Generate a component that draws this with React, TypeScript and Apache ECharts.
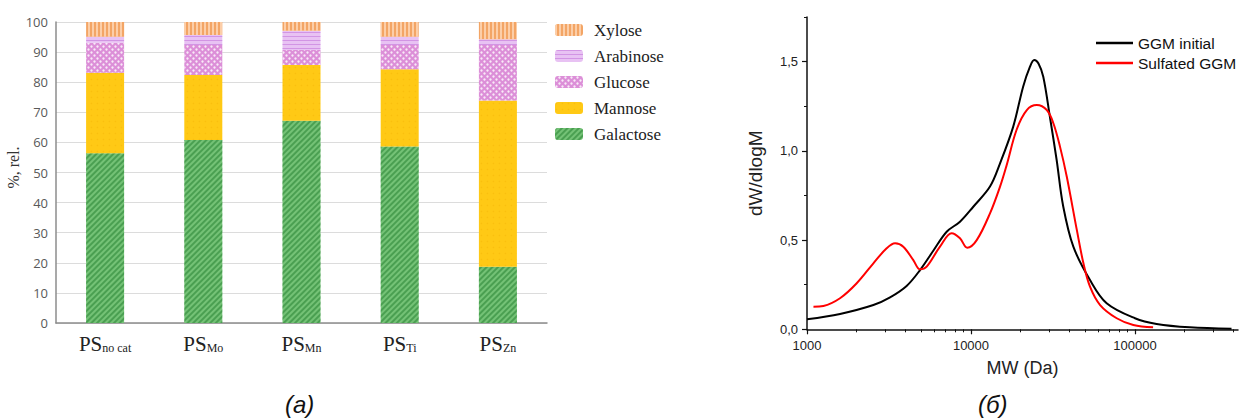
import React, { useEffect, useRef } from 'react';
import * as echarts from 'echarts';

// ---- Left chart: monosaccharide composition (%, rel.) ----
const categories = ['no cat', 'Mo', 'Mn', 'Ti', 'Zn'];
const galactose = [56.4, 60.8, 67.2, 58.6, 18.7];
const mannose = [26.7, 21.6, 18.5, 25.7, 55.2];
const glucose = [10.0, 10.0, 5.0, 8.1, 18.5];
const arabinose = [2.0, 3.3, 6.4, 2.7, 1.9];
const xylose = [4.9, 4.3, 2.9, 4.9, 5.7];
const leftTicks = [0, 10, 20, 30, 40, 50, 60, 70, 80, 90, 100];

// ---- Right chart: MWD curves ----
const mwInitial = [1000, 1590, 2540, 3210, 4050, 4890, 5890, 7110, 8570, 10330, 13060, 15040, 18100, 20800, 22900, 24300, 25800, 27600, 30300, 33300, 36500, 42100, 53200, 67200, 100000, 135500, 216000, 388000];
const dwInitial = [0.056, 0.086, 0.136, 0.179, 0.243, 0.332, 0.44, 0.547, 0.603, 0.687, 0.80, 0.93, 1.136, 1.36, 1.472, 1.51, 1.49, 1.416, 1.19, 0.949, 0.69, 0.463, 0.276, 0.146, 0.062, 0.030, 0.011, 0.003];
const mwSulfated = [1095, 1259, 1590, 2010, 2540, 3060, 3445, 3865, 4450, 4890, 5370, 6470, 7620, 8570, 9480, 10840, 13060, 15040, 16500, 19000, 21900, 25200, 29000, 31800, 34900, 38400, 44200, 48500, 53200, 61300, 77400, 97700, 129000];
const dwSulfated = [0.127, 0.131, 0.174, 0.258, 0.37, 0.454, 0.482, 0.463, 0.388, 0.336, 0.351, 0.463, 0.538, 0.51, 0.457, 0.5, 0.65, 0.80, 0.92, 1.12, 1.229, 1.257, 1.229, 1.155, 1.024, 0.855, 0.557, 0.37, 0.239, 0.136, 0.062, 0.024, 0.011];
const xMajorTicks = [1000, 10000, 100000];
const xMinorTicks = [2000, 3000, 4000, 5000, 6000, 7000, 8000, 9000, 20000, 30000, 40000, 50000, 60000, 70000, 80000, 90000, 200000, 300000, 400000];
const yMajorTicks = [0, 0.5, 1.0, 1.5];
const xMin = 1000;
const xMax = 425000;

const pair = (xs: number[], ys: number[]) => xs.map((x, i) => [x, ys[i]]);

export default function App() {
  const ref = useRef<HTMLDivElement>(null);
  useEffect(() => {
    if (!ref.current) return;
    const chart = echarts.init(ref.current, null, { renderer: 'svg' });
    const serif = 'Liberation Serif';
    const sans = 'Liberation Sans';
    const barSeries = (name: string, data: number[], color: string, decal: any) => ({
      name,
      type: 'bar',
      stack: 'comp',
      xAxisIndex: 0,
      yAxisIndex: 0,
      barWidth: 38,
      data,
      itemStyle: { color, decal },
    });
    chart.setOption({
      animation: false,
      backgroundColor: '#ffffff',
      grid: [
        { left: 56, top: 22, width: 491, height: 301 },
        { left: 807, top: 17.1, width: 431, height: 312.2 },
      ],
      legend: [
        {
          data: ['Xylose', 'Arabinose', 'Glucose', 'Mannose', 'Galactose'],
          orient: 'vertical',
          left: 550,
          top: 16.5,
          itemWidth: 28,
          itemHeight: 12,
          itemGap: 9,
          textStyle: { fontFamily: serif, fontSize: 17, color: '#222', lineHeight: 17, padding: [0, 0, 0, 6] },
        },
        {
          data: ['GGM initial', 'Sulfated GGM'],
          orient: 'vertical',
          left: 1091,
          top: 30,
          icon: 'rect',
          itemWidth: 37,
          itemHeight: 2.5,
          itemGap: 4,
          textStyle: { fontFamily: sans, fontSize: 15.5, color: '#111', lineHeight: 16 },
        },
      ],
      xAxis: [
        {
          type: 'category',
          gridIndex: 0,
          data: categories,
          axisLine: { lineStyle: { color: '#8c8c8c', width: 1.5 } },
          axisTick: { show: false },
          axisLabel: {
            interval: 0,
            margin: 7,
            formatter: (v: string) => `{a|PS}{b|${v}}`,
            rich: {
              a: { fontFamily: serif, fontSize: 21, color: '#222', lineHeight: 24, verticalAlign: 'bottom' },
              b: { fontFamily: serif, fontSize: 12, color: '#222', lineHeight: 10, verticalAlign: 'bottom' },
            },
          },
        },
        {
          type: 'log',
          logBase: 10,
          gridIndex: 1,
          position: 'bottom',
          min: xMin,
          max: xMax,
          axisLine: { lineStyle: { color: '#111', width: 1.5 } },
          axisTick: { show: true, length: 5, customValues: xMajorTicks, lineStyle: { color: '#111', width: 1.2 } },
          axisLabel: { customValues: xMajorTicks, margin: 10, fontFamily: sans, fontSize: 13, color: '#222', formatter: (v: number) => String(Math.round(v)) },
          splitLine: { show: false },
          name: 'MW (Da)',
          nameLocation: 'middle',
          nameGap: 30,
          nameTextStyle: { fontFamily: sans, fontSize: 18, color: '#222' },
        },
        {
          type: 'log',
          logBase: 10,
          gridIndex: 1,
          position: 'bottom',
          min: xMin,
          max: xMax,
          axisLine: { show: false },
          axisTick: { show: true, length: 3, customValues: xMinorTicks, lineStyle: { color: '#111', width: 1 } },
          axisLabel: { show: false },
          splitLine: { show: false },
        },
      ],
      yAxis: [
        {
          type: 'value',
          gridIndex: 0,
          min: 0,
          max: 100,
          interval: 10,
          axisLine: { show: true, lineStyle: { color: '#8c8c8c', width: 1.5 } },
          axisTick: { show: false },
          axisLabel: { margin: 8, fontFamily: 'Open Sans', fontSize: 13, color: '#595959', customValues: leftTicks },
          splitLine: { lineStyle: { color: '#dcdcdc', width: 1 } },
          name: '%, rel.',
          nameLocation: 'middle',
          nameRotate: 90,
          nameGap: 26,
          nameTextStyle: { fontFamily: serif, fontSize: 16, color: '#333', padding: [0, 0, 0, 10] },
        },
        {
          type: 'value',
          gridIndex: 1,
          position: 'left',
          min: 0,
          max: 1.75,
          interval: 0.25,
          axisLine: { show: true, lineStyle: { color: '#111', width: 1.5 } },
          axisTick: { show: true, length: 3, lineStyle: { color: '#111', width: 1 } },
          axisLabel: { show: false },
          splitLine: { show: false },
          name: 'dW/dlogM',
          nameLocation: 'middle',
          nameRotate: 90,
          nameGap: 42,
          nameTextStyle: { fontFamily: sans, fontSize: 19, color: '#222' },
        },
        {
          type: 'value',
          gridIndex: 1,
          position: 'left',
          offset: 0,
          min: 0,
          max: 1.75,
          interval: 0.5,
          axisLine: { show: false },
          axisTick: { show: true, length: 5, customValues: yMajorTicks, lineStyle: { color: '#111', width: 1.2 } },
          axisLabel: {
            customValues: yMajorTicks,
            margin: 9,
            fontFamily: sans,
            fontSize: 13,
            color: '#222',
            formatter: (v: number) => v.toFixed(1).replace('.', ','),
          },
          splitLine: { show: false },
        },
      ],
      series: [
        barSeries('Galactose', galactose, '#74c276', {
          symbol: 'rect', symbolSize: 1, color: 'rgba(40,130,50,0.55)', dashArrayX: [1, 0], dashArrayY: [2, 2], rotation: -Math.PI / 4,
        }),
        barSeries('Mannose', mannose, '#ffc915', {
          symbol: 'circle', symbolSize: 0.5, color: 'rgba(240,170,0,0.35)', dashArrayX: [[3, 3]], dashArrayY: [3, 3],
        }),
        barSeries('Glucose', glucose, '#dc8fd8', {
          symbol: 'circle', symbolSize: 0.8, color: 'rgba(255,255,255,0.8)', dashArrayX: [[3, 3], [0, 3, 3, 0]], dashArrayY: [3, 0],
        }),
        barSeries('Arabinose', arabinose, '#e8c2f3', {
          symbol: 'rect', symbolSize: 1, color: 'rgba(190,110,215,0.55)', dashArrayX: [1, 0], dashArrayY: [1, 3], rotation: 0,
        }),
        barSeries('Xylose', xylose, '#f3a565', {
          symbol: 'rect', symbolSize: 1, color: 'rgba(255,220,190,0.75)', dashArrayX: [2, 2], dashArrayY: [1, 0],
        }),
        {
          name: 'GGM initial',
          type: 'line',
          xAxisIndex: 1,
          yAxisIndex: 1,
          data: pair(mwInitial, dwInitial),
          smooth: 0.35,
          showSymbol: false,
          symbol: 'none',
          lineStyle: { color: '#000000', width: 2 },
          itemStyle: { color: '#000000' },
        },
        {
          name: 'Sulfated GGM',
          type: 'line',
          xAxisIndex: 1,
          yAxisIndex: 1,
          data: pair(mwSulfated, dwSulfated),
          smooth: 0.35,
          showSymbol: false,
          symbol: 'none',
          lineStyle: { color: '#ff0000', width: 2 },
          itemStyle: { color: '#ff0000' },
        },
      ],
      graphic: [
        { type: 'text', left: 285, top: 392, style: { text: '(а)', fontFamily: sans, fontStyle: 'italic', fontSize: 24, fill: '#111' } },
        { type: 'text', left: 978, top: 392, style: { text: '(б)', fontFamily: sans, fontStyle: 'italic', fontSize: 24, fill: '#111' } },
      ],
    });
    return () => chart.dispose();
  }, []);
  return <div ref={ref} style={{ position: 'absolute', left: 0, top: 0, width: 1243, height: 419 }} />;
}
